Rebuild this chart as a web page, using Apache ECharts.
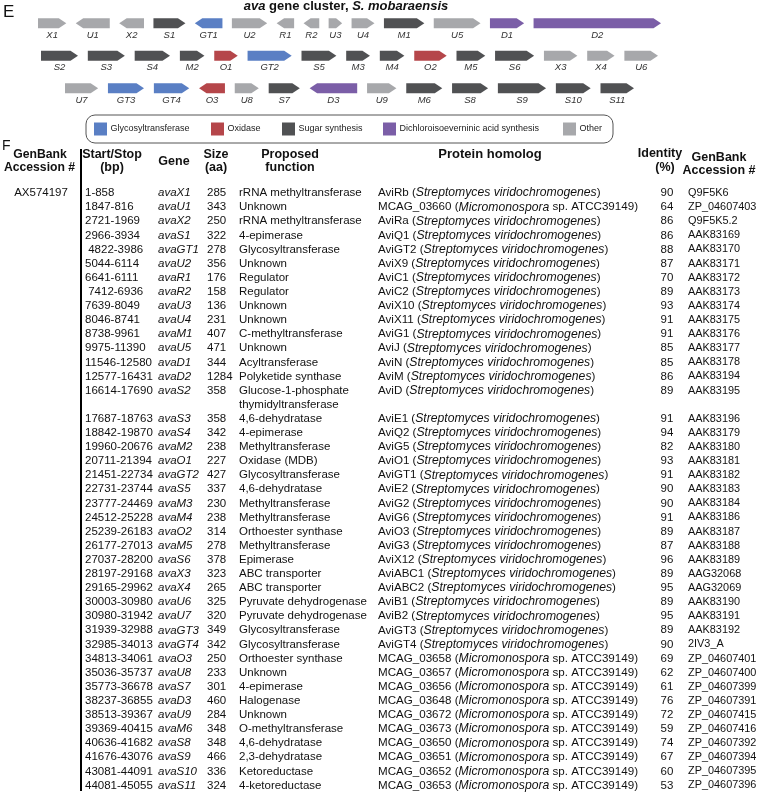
<!DOCTYPE html>
<html><head><meta charset="utf-8">
<script src="https://cdn.jsdelivr.net/npm/echarts@6/dist/echarts.min.js"></script>
<style>html,body{margin:0;padding:0;background:#fff}#c{width:760px;height:792px}</style>
</head><body><div id="c"></div>
<script>
// ---------------- DATA ----------------
const clusterAccession = 'AX574197';
const genes = ['avaX1','avaU1','avaX2','avaS1','avaGT1','avaU2','avaR1','avaR2','avaU3','avaU4','avaM1','avaU5','avaD1','avaD2',
  'avaS2','avaS3','avaS4','avaM2','avaO1','avaGT2','avaS5','avaM3','avaM4','avaO2','avaM5','avaS6','avaX3','avaX4','avaU6',
  'avaU7','avaGT3','avaGT4','avaO3','avaU8','avaS7','avaD3','avaU9','avaM6','avaS8','avaS9','avaS10','avaS11'];
const startStop = ['1-858','1847-816','2721-1969','2966-3934',' 4822-3986','5044-6114','6641-6111',' 7412-6936','7639-8049','8046-8741',
  '8738-9961','9975-11390','11546-12580','12577-16431','16614-17690','17687-18763','18842-19870','19960-20676','20711-21394',
  '21451-22734','22731-23744','23777-24469','24512-25228','25239-26183','26177-27013','27037-28200','28197-29168','29165-29962',
  '30003-30980','30980-31942','31939-32988','32985-34013','34813-34061','35036-35737','35773-36678','38237-36855','38513-39367',
  '39369-40415','40636-41682','41676-43076','43081-44091','44081-45055'];
const sizes = [285,343,250,322,278,356,176,158,136,231,407,471,344,1284,358,358,342,238,227,427,337,230,238,314,278,378,323,265,325,
  320,349,342,250,233,301,460,284,348,348,466,336,324];
const functions = ['rRNA methyltransferase','Unknown','rRNA methyltransferase','4-epimerase','Glycosyltransferase','Unknown','Regulator',
  'Regulator','Unknown','Unknown','C-methyltransferase','Unknown','Acyltransferase','Polyketide synthase',
  'Glucose-1-phosphate\nthymidyltransferase','4,6-dehydratase','4-epimerase','Methyltransferase','Oxidase (MDB)','Glycosyltransferase',
  '4,6-dehydratase','Methyltransferase','Methyltransferase','Orthoester synthase','Methyltransferase','Epimerase','ABC transporter',
  'ABC transporter','Pyruvate dehydrogenase','Pyruvate dehydrogenase','Glycosyltransferase','Glycosyltransferase','Orthoester synthase',
  'Unknown','4-epimerase','Halogenase','Unknown','O-methyltransferase','4,6-dehydratase','2,3-dehydratase','Ketoreductase','4-ketoreductase'];
const homologs = ['AviRb','MCAG_03660','AviRa','AviQ1','AviGT2','AviX9','AviC1','AviC2','AviX10','AviX11','AviG1','AviJ','AviN','AviM',
  'AviD','AviE1','AviQ2','AviG5','AviO1','AviGT1','AviE2','AviG2','AviG6','AviO3','AviG3','AviX12','AviABC1','AviABC2','AviB1','AviB2',
  'AviGT3','AviGT4','MCAG_03658','MCAG_03657','MCAG_03656','MCAG_03648','MCAG_03672','MCAG_03673','MCAG_03650','MCAG_03651',
  'MCAG_03652','MCAG_03653'];
const SV = ['Streptomyces viridochromogenes', ''];
const MI = ['Micromonospora', ' sp. ATCC39149'];
const organisms = [SV,MI,SV,SV,SV,SV,SV,SV,SV,SV,SV,SV,SV,SV,SV,SV,SV,SV,SV,SV,SV,SV,SV,SV,SV,SV,SV,SV,SV,SV,SV,SV,
  MI,MI,MI,MI,MI,MI,MI,MI,MI,MI];
const identities = [90,64,86,86,88,87,70,89,93,91,91,85,85,86,89,91,94,82,93,91,90,90,91,89,87,96,89,95,89,95,89,90,
  69,62,61,76,72,59,74,67,60,53];
const accessions = ['Q9F5K6','ZP_04607403','Q9F5K5.2','AAK83169','AAK83170','AAK83171','AAK83172','AAK83173','AAK83174','AAK83175',
  'AAK83176','AAK83177','AAK83178','AAK83194','AAK83195','AAK83196','AAK83179','AAK83180','AAK83181','AAK83182','AAK83183',
  'AAK83184','AAK83186','AAK83187','AAK83188','AAK83189','AAG32068','AAG32069','AAK83190','AAK83191','AAK83192','2IV3_A',
  'ZP_04607401','ZP_04607400','ZP_04607399','ZP_04607391','ZP_04607415','ZP_04607416','ZP_04607392','ZP_04607394',
  'ZP_04607395','ZP_04607396'];
// gene map rows (gene order as drawn)
const mapRow1 = ['avaX1','avaU1','avaX2','avaS1','avaGT1','avaU2','avaR1','avaR2','avaU3','avaU4','avaM1','avaU5','avaD1','avaD2'];
const mapRow2 = ['avaS2','avaS3','avaS4','avaM2','avaO1','avaGT2','avaS5','avaM3','avaM4','avaO2','avaM5','avaS6','avaX3','avaX4','avaU6'];
const mapRow3 = ['avaU7','avaGT3','avaGT4','avaO3','avaU8','avaS7','avaD3','avaU9','avaM6','avaS8','avaS9','avaS10','avaS11'];
const classNames = ['Glycosyltransferase','Oxidase','Sugar synthesis','Dichloroisoeverninic acid synthesis','Other'];

// ---------------- STYLE / LAYOUT ----------------
const F = '"Liberation Sans", Arial, Helvetica, sans-serif';
const classColors = ['#5a7fc4','#b5464a','#505153','#7b5ea7','#a7a8ab'];
function geneClass(name){
  const s = name.replace('ava','');
  if (s.startsWith('GT')) return 0;
  if (s[0]==='O') return 1;
  if (s[0]==='S' || s[0]==='M') return 2;
  if (s[0]==='D') return 3;
  return 4;
}
function isReverse(i){
  const p = startStop[i].trim().split('-').map(Number);
  return p[0] > p[1];
}
const GAP = 95; // gap between arrows in map units (aa)
const mapRows = [mapRow1, mapRow2, mapRow3];
const rowLeft = [38, 41, 65], rowRight = [661, 658, 634], rowY = [23.3, 55.7, 88.3];

const grids = [], xAxes = [], yAxes = [], series = [];
mapRows.forEach((row, r) => {
  let pos = 0; const data = [];
  row.forEach((g, k) => {
    const i = genes.indexOf(g);
    data.push([pos, pos + sizes[i], isReverse(i) ? -1 : 1, geneClass(g), i]);
    pos += sizes[i] + (k < row.length - 1 ? GAP : 0);
  });
  grids.push({left: rowLeft[r], width: rowRight[r]-rowLeft[r], top: rowY[r]-5, height: 10});
  xAxes.push({type:'value', gridIndex:r, min:0, max:pos, show:false});
  yAxes.push({type:'value', gridIndex:r, min:-1, max:1, show:false});
  series.push({
    type:'custom', xAxisIndex:r, yAxisIndex:r, data, silent:true,
    renderItem(params, api){
      const s = api.value(0), e = api.value(1), dir = api.value(2), cls = api.value(3), idx = api.value(4);
      const a = api.coord([s,0]), b = api.coord([e,0]);
      const x0 = a[0], x1 = b[0], yc = a[1], hh = 5, head = Math.min(7.5, (x1-x0)*0.45);
      const pts = dir > 0
        ? [[x0,yc-hh],[x1-head,yc-hh],[x1,yc],[x1-head,yc+hh],[x0,yc+hh]]
        : [[x1,yc-hh],[x0+head,yc-hh],[x0,yc],[x0+head,yc+hh],[x1,yc+hh]];
      return {type:'group', children:[
        {type:'polygon', shape:{points:pts}, style:{fill:classColors[cls]}},
        {type:'text', style:{text:genes[idx].replace('ava',''), x:(x0+x1)/2, y:yc+12, align:'center', verticalAlign:'middle',
          fontSize:9.5, fontFamily:F, fontStyle:'italic', fill:'#333'}}
      ]};
    }
  });
});

// table
const LH = 14.14, ROW0 = 192.6;
const lineIdx = []; let ln = 0;
genes.forEach((g,i) => { lineIdx.push(ln); ln += functions[i].split('\n').length; });
const nLines = ln;
grids.push({left:0, right:0, top: ROW0 - LH/2, height: nLines*LH});
xAxes.push({type:'value', gridIndex:3, min:0, max:760, show:false});
yAxes.push({type:'value', gridIndex:3, min:-0.5, max:nLines-0.5, inverse:true, show:false});
const FS = 11.5, FSH = 12.2, FSG = 10.9;
const col = {acc:41, ss:85, gene:158, size:207, func:239, hom:378, id:667, gb:688};
function txt(text, x, y, extra){
  return {type:'text', style:Object.assign({text, x, y, fontSize:FS, fontFamily:F, fill:'#111', verticalAlign:'top', lineHeight:LH}, extra||{})};
}
series.push({
  type:'custom', xAxisIndex:3, yAxisIndex:3, silent:true,
  data: genes.map((g,i) => [i, lineIdx[i]]),
  renderItem(params, api){
    const i = api.value(0), line = api.value(1);
    const y = api.coord([0, line])[1] - LH/2 + 0.5;
    const org = organisms[i];
    const ch = [
      txt(startStop[i], col.ss, y),
      txt(genes[i], col.gene, y, {fontStyle:'italic'}),
      txt(String(sizes[i]), col.size, y),
      txt(functions[i], col.func, y),
      {type:'text', style:{
        text: '{n|' + homologs[i] + ' (}{i|' + org[0] + '}{n|' + org[1] + ')}',
        x: col.hom, y, verticalAlign:'top', fontSize:FSH, fontFamily:F, fill:'#111',
        rich:{
          n:{fontSize:11.6, fontFamily:F, fill:'#111', lineHeight:LH},
          i:{fontSize:FSH, fontFamily:F, fill:'#111', fontStyle:'italic', lineHeight:LH}
        }}},
      txt(String(identities[i]), col.id, y, {align:'center'}),
      txt(accessions[i], col.gb, y, {fontSize:FSG})
    ];
    if (i === 0) ch.push(txt(clusterAccession, col.acc, y, {align:'center'}));
    return {type:'group', children: ch};
  }
});

// static text / legend
const H = {fontSize:12.5, fontWeight:'bold', fontFamily:F, fill:'#111'};
function ht(text, x, y, size){
  return {type:'text', x, y, style:Object.assign({text, align:'center', verticalAlign:'middle'}, H, size ? {fontSize:size} : {})};
}
const graphic = [
  {type:'text', x:3, y:12, style:{text:'E', fontSize:17, fontFamily:F, fill:'#111', verticalAlign:'middle'}},
  {type:'text', x:346, y:6.5, style:{
    text:'{bi|ava}{b| gene cluster, }{bi|S. mobaraensis}', align:'center', verticalAlign:'middle',
    rich:{b:{fontSize:13, fontWeight:'bold', fontFamily:F, fill:'#111'},
          bi:{fontSize:13, fontWeight:'bold', fontStyle:'italic', fontFamily:F, fill:'#111'}}}},
  {type:'rect', shape:{x:86, y:115, width:527, height:28, r:9}, style:{fill:'none', stroke:'#555', lineWidth:1}},
  {type:'text', x:2, y:146, style:{text:'F', fontSize:14, fontFamily:F, fill:'#111', verticalAlign:'middle'}},
  ht('GenBank', 40, 155, 12.2), ht('Accession #', 39.5, 168, 12.2),
  ht('Start/Stop', 112, 155), ht('(bp)', 112, 168),
  ht('Gene', 174, 162),
  ht('Size', 216, 155), ht('(aa)', 216, 168),
  ht('Proposed', 290, 155), ht('function', 290, 168),
  ht('Protein homolog', 490, 154, 13),
  ht('Identity', 660, 154), ht('(%)', 665, 168),
  ht('GenBank', 719, 158), ht('Accession #', 719, 171),
  {type:'line', shape:{x1:81, y1:149, x2:81, y2:791}, style:{stroke:'#000', lineWidth:2}}
];
const legX = [94, 211, 282, 383, 563];
classNames.forEach((n,k) => {
  graphic.push({type:'rect', shape:{x:legX[k], y:122.5, width:13, height:13}, style:{fill:classColors[k]}});
  graphic.push({type:'text', x:legX[k]+16.5, y:129, style:{text:n, fontSize:9, fontFamily:F, fill:'#222', verticalAlign:'middle'}});
});

const chart = echarts.init(document.getElementById('c'), null, {renderer:'canvas'});
chart.setOption({
  animation:false, backgroundColor:'#fff',
  grid: grids, xAxis: xAxes, yAxis: yAxes, series, graphic
});
</script>
</body></html>
